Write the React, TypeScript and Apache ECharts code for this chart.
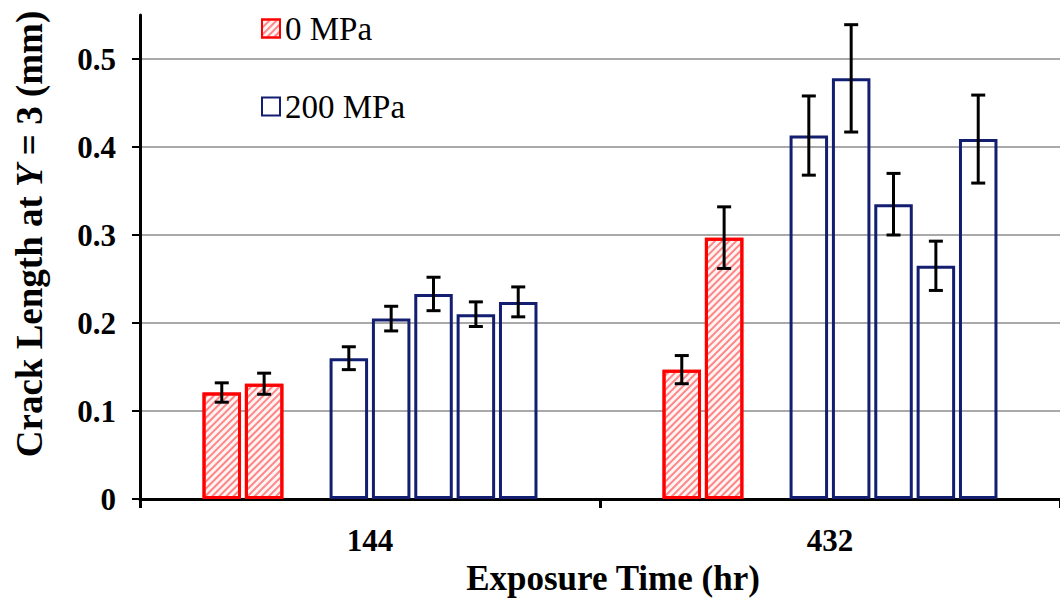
import React, { useEffect, useRef } from "react";
import * as echarts from "echarts";

const categories = ["144", "432"];
const yTicks = [0, 0.1, 0.2, 0.3, 0.4, 0.5];

// each inner array = one specimen across the two exposure times
const mpa0Values = [
  [0.121, 0.147],
  [0.131, 0.297],
];
const mpa0Errors = [
  [0.011, 0.016],
  [0.012, 0.035],
];
const mpa200Values = [
  [0.16, 0.413],
  [0.205, 0.478],
  [0.233, 0.335],
  [0.21, 0.265],
  [0.224, 0.409],
];
const mpa200Errors = [
  [0.013, 0.045],
  [0.014, 0.061],
  [0.019, 0.035],
  [0.014, 0.028],
  [0.017, 0.05],
];

const FONT = "'Liberation Serif', 'Times New Roman', serif";
const BAR_W = 38.5;
const GAP_RATIO = 0.1;
const RED = "#ff0000";
const NAVY = "#141e70";

export default function App() {
  const ref = useRef<HTMLDivElement>(null);

  useEffect(() => {
    if (!ref.current) return;
    const chart = echarts.init(ref.current, null, { renderer: "svg" });

    const slots: { name: string; values: (number | null)[]; errors: number[] | null; kind: string }[] = [];
    mpa0Values.forEach((v, i) => slots.push({ name: "0 MPa", values: v, errors: mpa0Errors[i], kind: "red" }));
    slots.push({ name: "", values: categories.map(() => null), errors: null, kind: "empty" });
    mpa200Values.forEach((v, i) => slots.push({ name: "200 MPa", values: v, errors: mpa200Errors[i], kind: "blue" }));
    const nSlots = slots.length;

    const redStyle = {
      color: "#fff4f4",
      borderColor: RED,
      borderWidth: 3,
      decal: {
        symbol: "rect",
        symbolSize: 1,
        dashArrayX: [1, 0],
        dashArrayY: [1.2, 2.6],
        rotation: -Math.PI / 4,
        color: "rgba(255,60,60,0.6)",
      },
    };
    const blueStyle = {
      color: "rgba(255,255,255,0)",
      borderColor: NAVY,
      borderWidth: 3,
    };

    const barSeries = slots.map((s) => ({
      type: "bar",
      name: s.name,
      data: s.values,
      barWidth: BAR_W,
      barGap: GAP_RATIO * 100 + "%",
      itemStyle: s.kind === "red" ? redStyle : blueStyle,
      z: 2,
    }));

    const errData: number[][] = [];
    slots.forEach((s, slot) => {
      if (!s.errors) return;
      s.values.forEach((v, ci) => {
        if (v == null) return;
        const e = (s.errors as number[])[ci];
        errData.push([ci, v - e, v + e, slot]);
      });
    });

    const step = BAR_W * (1 + GAP_RATIO);

    const errorSeries = {
      type: "custom",
      name: "err",
      data: errData,
      encode: { x: 0, y: [1, 2] },
      z: 5,
      renderItem: (params: any, api: any) => {
        const ci = api.value(0);
        const lo = api.value(1);
        const hi = api.value(2);
        const slot = api.value(3);
        const pLo = api.coord([ci, lo]);
        const pHi = api.coord([ci, hi]);
        const x = pLo[0] + (slot - (nSlots - 1) / 2) * step;
        const cap = 7;
        const style = { stroke: "#000", lineWidth: 3 };
        return {
          type: "group",
          children: [
            { type: "line", shape: { x1: x, y1: pLo[1], x2: x, y2: pHi[1] }, style },
            { type: "line", shape: { x1: x - cap, y1: pLo[1], x2: x + cap, y2: pLo[1] }, style },
            { type: "line", shape: { x1: x - cap, y1: pHi[1], x2: x + cap, y2: pHi[1] }, style },
          ],
        };
      },
    };

    chart.setOption({
      animation: false,
      backgroundColor: "#ffffff",
      legend: {
        data: ["0 MPa", "200 MPa"],
        orient: "vertical",
        left: 256,
        top: 7,
        itemWidth: 18,
        itemHeight: 18,
        itemGap: 45,
        icon: "rect",
        textStyle: { fontFamily: FONT, fontSize: 33, color: "#000" },
        selectedMode: false,
      },
      grid: { left: 140, right: -4, top: 15, bottom: 98, containLabel: false },
      xAxis: {
        type: "category",
        data: categories,
        boundaryGap: true,
        axisLine: { lineStyle: { color: "#000", width: 3 } },
        axisTick: { show: true, inside: false, length: 9, lineStyle: { color: "#000", width: 3 } },
        axisLabel: { fontFamily: FONT, fontSize: 31, fontWeight: "bold", color: "#000", margin: 26 },
        name: "Exposure Time (hr)",
        nameLocation: "middle",
        nameGap: 62,
        nameTextStyle: { fontFamily: FONT, fontSize: 35, fontWeight: "bold", color: "#000", padding: [0, 0, 0, 26] },
        splitLine: { show: false },
      },
      yAxis: {
        type: "value",
        min: 0,
        max: 0.55,
        interval: 0.1,
        axisLine: { show: true, lineStyle: { color: "#000", width: 3 } },
        axisTick: { show: true, inside: false, length: 8, lineStyle: { color: "#000", width: 2 }, customValues: yTicks },
        axisLabel: {
          fontFamily: FONT,
          fontSize: 31,
          fontWeight: "bold",
          color: "#000",
          margin: 24,
          customValues: yTicks,
        },
        splitLine: { show: true, lineStyle: { color: "#8c8c8c", width: 1.5 } },
        name: "{b|Crack Length at }{i|Y}{b| = 3 (mm)}",
        nameLocation: "middle",
        nameGap: 92,
        nameRotate: 90,
        nameTextStyle: {
          padding: [0, 0, 0, 46],
          rich: {
            b: { fontFamily: FONT, fontSize: 37, fontWeight: "bold", color: "#000" },
            i: { fontFamily: FONT, fontSize: 37, fontWeight: "bold", fontStyle: "italic", color: "#000" },
          },
        },
      },
      series: [...barSeries, errorSeries],
    });

    return () => chart.dispose();
  }, []);

  return (
    <div
      ref={ref}
      style={{ position: "fixed", left: 0, top: 0, width: 1060, height: 601, background: "#fff" }}
    />
  );
}
